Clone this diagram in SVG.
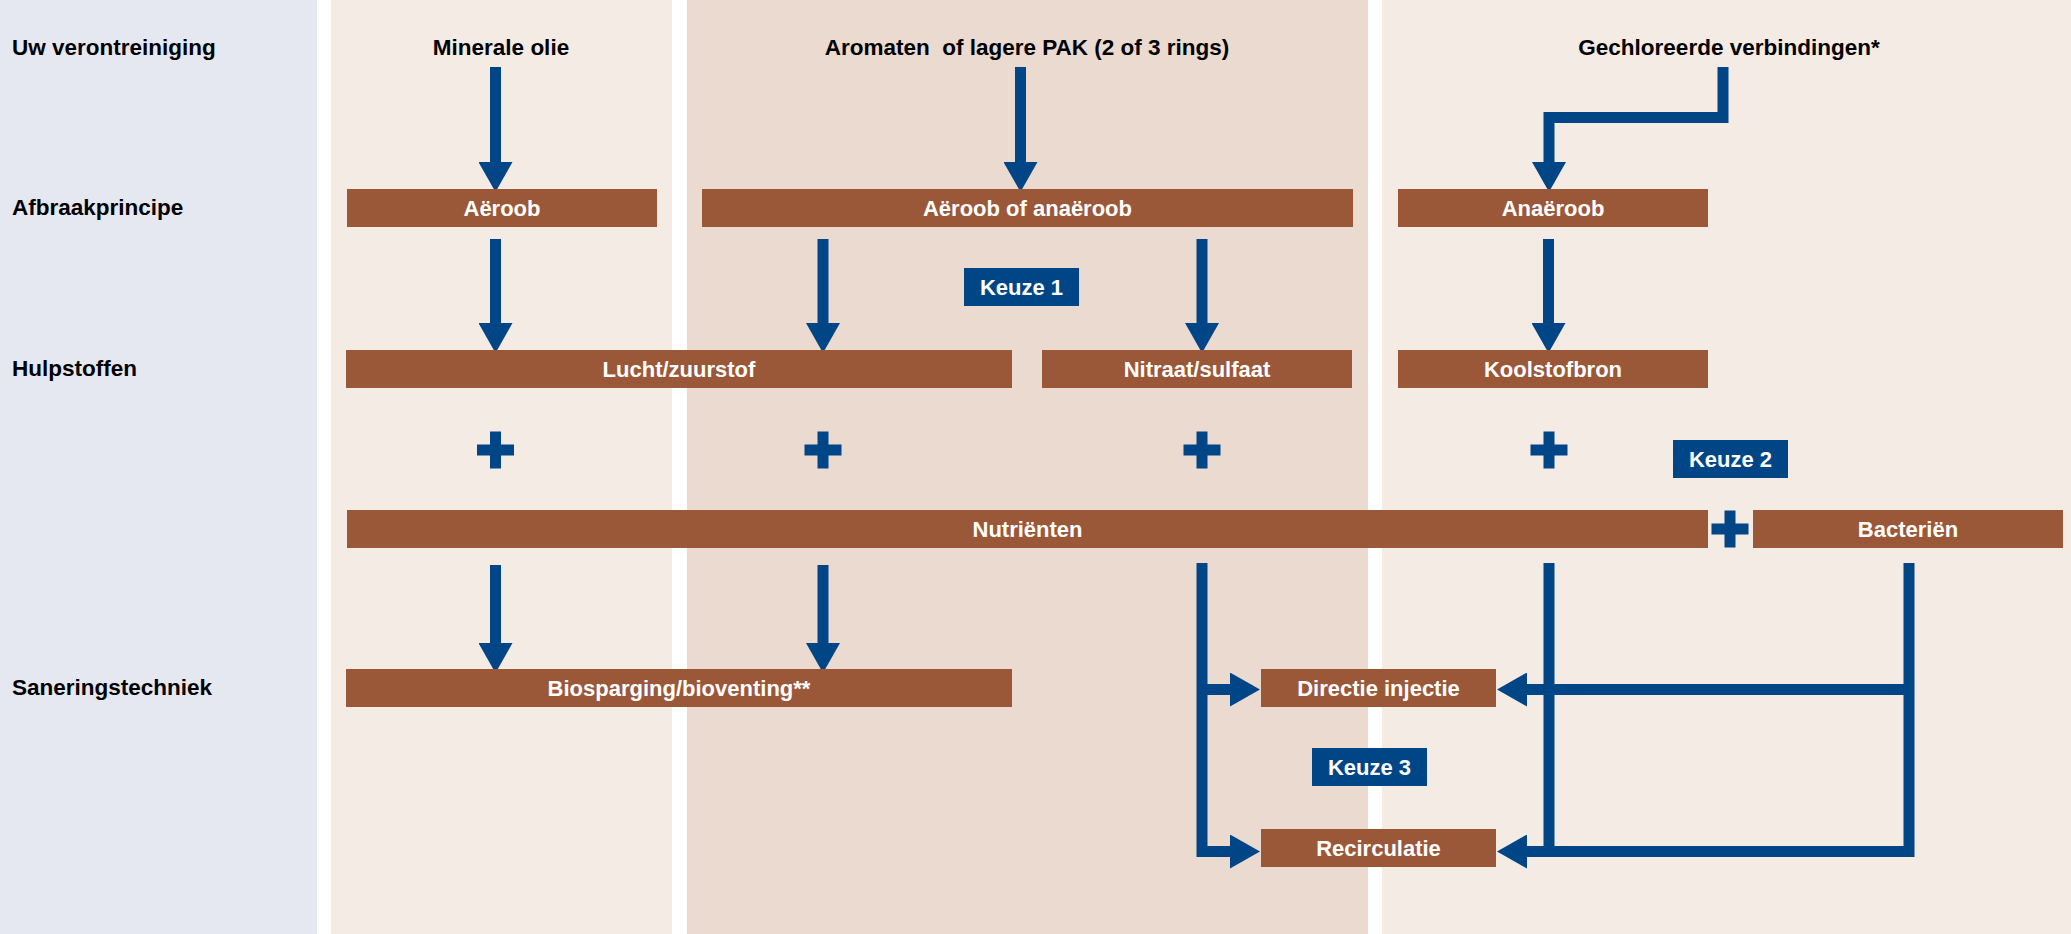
<svg xmlns="http://www.w3.org/2000/svg" width="2071" height="934" viewBox="0 0 2071 934">
  <style>
    text { font-family: "Liberation Sans", Arial, sans-serif; font-weight: bold; }
    .hdr { font-size: 22.5px; fill: #000000; }
    .box { fill: #9b5839; }
    .btxt { font-size: 22px; fill: #ffffff; text-anchor: middle; }
    .keuze { fill: #004687; }
    .ktxt { font-size: 22px; fill: #ffffff; text-anchor: middle; }
    .conn { fill: none; stroke: #004687; stroke-width: 11; stroke-linejoin: miter; stroke-linecap: butt; }
    .plus { fill: #004687; }
  </style>
  <defs>
    <marker id="ah" viewBox="0 0 30 34" refX="15" refY="17" markerWidth="30" markerHeight="34" markerUnits="userSpaceOnUse" orient="auto">
      <path d="M0,0 L30,17 L0,34 Z" fill="#004687"/>
    </marker>
    <path id="plusShape" d="M-18.5,-5.5 H-5.5 V-18.5 H5.5 V-5.5 H18.5 V5.5 H5.5 V18.5 H-5.5 V5.5 H-18.5 Z"/>
  </defs>

  <!-- background panels -->
  <g id="panels">
    <rect x="0" y="0" width="2071" height="934" fill="#ffffff"/>
    <rect x="0" y="0" width="317" height="934" fill="#e6e8f1"/>
    <rect x="331" y="0" width="341" height="934" fill="#f4ebe5"/>
    <rect x="687" y="0" width="681" height="934" fill="#eadad0"/>
    <rect x="1382" y="0" width="689" height="934" fill="#f4ebe5"/>
  </g>

  <!-- row labels -->
  <g id="row-labels">
    <text class="hdr" x="12" y="55">Uw verontreiniging</text>
    <text class="hdr" x="12" y="215">Afbraakprincipe</text>
    <text class="hdr" x="12" y="376">Hulpstoffen</text>
    <text class="hdr" x="12" y="695">Saneringstechniek</text>
  </g>

  <!-- column headers -->
  <g id="hdr-minerale">
    <text class="hdr" x="501" y="55" text-anchor="middle">Minerale olie</text>
  </g>
  <g id="hdr-aromaten">
    <text class="hdr" x="1027" y="55" text-anchor="middle" xml:space="preserve">Aromaten  of lagere PAK (2 of 3 rings)</text>
  </g>
  <g id="hdr-gechloreerd">
    <text class="hdr" x="1729" y="55" text-anchor="middle">Gechloreerde verbindingen*</text>
  </g>

  <!-- connectors -->
  <g id="connectors">
    <path class="conn" d="M495.5,67 V177" marker-end="url(#ah)"/>
    <path class="conn" d="M1020.5,67 V177" marker-end="url(#ah)"/>
    <path class="conn" d="M1723,67 V117.5 H1549 V177" marker-end="url(#ah)"/>

    <path class="conn" d="M495.5,239 V338" marker-end="url(#ah)"/>
    <path class="conn" d="M823,239 V338" marker-end="url(#ah)"/>
    <path class="conn" d="M1202,239 V338" marker-end="url(#ah)"/>
    <path class="conn" d="M1548.5,239 V338" marker-end="url(#ah)"/>

    <path class="conn" d="M495.5,565 V658" marker-end="url(#ah)"/>
    <path class="conn" d="M823,565 V658" marker-end="url(#ah)"/>

    <path class="conn" d="M1202,563 V851.5 H1245" marker-end="url(#ah)"/>
    <path class="conn" d="M1202,689.5 H1245" marker-end="url(#ah)"/>

    <path class="conn" d="M1909,563 V851.5 H1512" marker-end="url(#ah)"/>
    <path class="conn" d="M1909,689.5 H1512" marker-end="url(#ah)"/>
    <path class="conn" d="M1549,563 V851.5"/>
  </g>

  <!-- plus signs -->
  <g id="plus-signs" class="plus">
    <use href="#plusShape" x="495.5" y="450"/>
    <use href="#plusShape" x="823" y="450"/>
    <use href="#plusShape" x="1202" y="450"/>
    <use href="#plusShape" x="1549" y="450"/>
    <use href="#plusShape" x="1730" y="529"/>
  </g>

  <!-- row 2 -->
  <g id="aeroob">
    <rect class="box" x="347" y="189" width="310" height="38"/>
    <text class="btxt" x="502" y="216">Aëroob</text>
  </g>
  <g id="aeroob-anaeroob">
    <rect class="box" x="702" y="189" width="651" height="38"/>
    <text class="btxt" x="1027.5" y="216">Aëroob of anaëroob</text>
  </g>
  <g id="anaeroob">
    <rect class="box" x="1398" y="189" width="310" height="38"/>
    <text class="btxt" x="1553" y="216">Anaëroob</text>
  </g>

  <g id="keuze1">
    <rect class="keuze" x="964" y="268" width="115" height="38"/>
    <text class="ktxt" x="1021.5" y="295">Keuze 1</text>
  </g>

  <!-- row 3 -->
  <g id="lucht">
    <rect class="box" x="346" y="350" width="666" height="38"/>
    <text class="btxt" x="679" y="377">Lucht/zuurstof</text>
  </g>
  <g id="nitraat">
    <rect class="box" x="1042" y="350" width="310" height="38"/>
    <text class="btxt" x="1197" y="377">Nitraat/sulfaat</text>
  </g>
  <g id="koolstofbron">
    <rect class="box" x="1398" y="350" width="310" height="38"/>
    <text class="btxt" x="1553" y="377">Koolstofbron</text>
  </g>

  <g id="keuze2">
    <rect class="keuze" x="1673" y="440" width="115" height="38"/>
    <text class="ktxt" x="1730.5" y="467">Keuze 2</text>
  </g>

  <!-- row 4 -->
  <g id="nutrienten">
    <rect class="box" x="347" y="510" width="1361" height="38"/>
    <text class="btxt" x="1027.5" y="537">Nutriënten</text>
  </g>
  <g id="bacterien">
    <rect class="box" x="1753" y="510" width="310" height="38"/>
    <text class="btxt" x="1908" y="537">Bacteriën</text>
  </g>

  <!-- row 5 -->
  <g id="biosparging">
    <rect class="box" x="346" y="669" width="666" height="38"/>
    <text class="btxt" x="679" y="696">Biosparging/bioventing**</text>
  </g>
  <g id="directie">
    <rect class="box" x="1261" y="669" width="235" height="38"/>
    <text class="btxt" x="1378.5" y="696">Directie injectie</text>
  </g>
  <g id="keuze3">
    <rect class="keuze" x="1312" y="748" width="115" height="38"/>
    <text class="ktxt" x="1369.5" y="775">Keuze 3</text>
  </g>
  <g id="recirculatie">
    <rect class="box" x="1261" y="829" width="235" height="38"/>
    <text class="btxt" x="1378.5" y="856">Recirculatie</text>
  </g>
</svg>
